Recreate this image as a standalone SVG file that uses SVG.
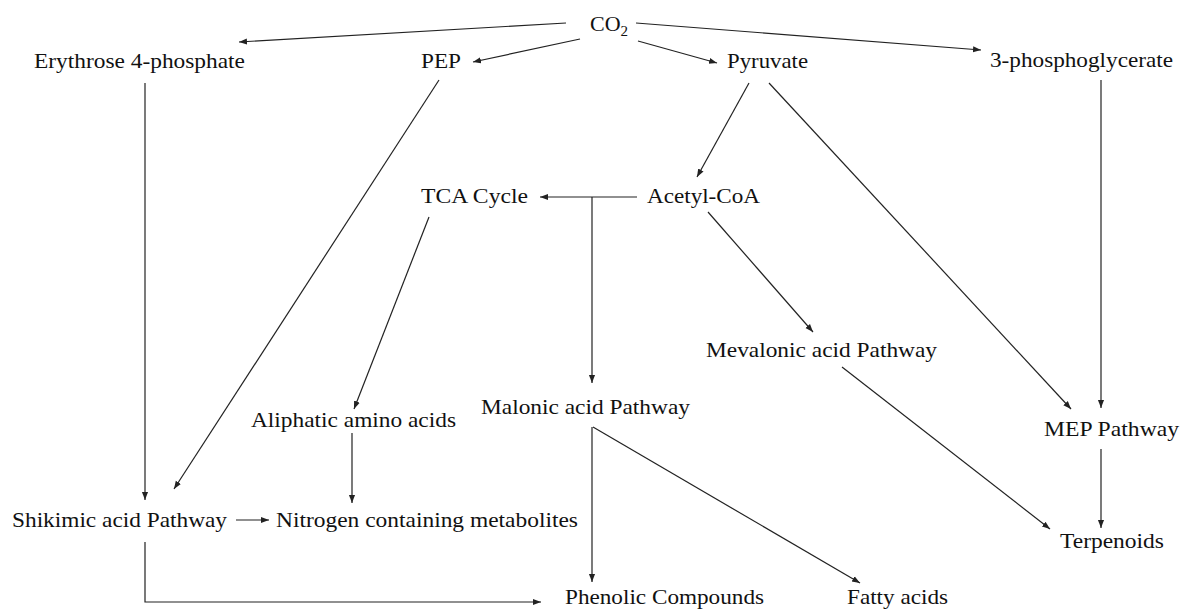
<svg xmlns="http://www.w3.org/2000/svg" width="1184" height="610" viewBox="0 0 1184 610">
<style>
text{font-family:"Liberation Serif","Times New Roman",serif;font-size:22px;fill:#111}
.c line,.c polyline{stroke:#222;stroke-width:1.2;fill:none}
.a{marker-end:url(#ah)}
</style>
<defs>
<marker id="ah" viewBox="0 0 10 10" refX="10" refY="5" markerWidth="8" markerHeight="8" markerUnits="userSpaceOnUse" orient="auto">
<path d="M0,1.2 L10,5 L0,8.8 z" fill="#222"/>
</marker>
</defs>
<rect width="1184" height="610" fill="#fff"/>
<g class="c" id="connectors">
<line class="a" x1="566" y1="23" x2="239" y2="42"/>
<line class="a" x1="580" y1="39" x2="473" y2="62"/>
<line class="a" x1="638" y1="41" x2="717" y2="63"/>
<line class="a" x1="636" y1="23" x2="981" y2="50"/>
<line class="a" x1="145" y1="83" x2="145" y2="500"/>
<line class="a" x1="439" y1="80" x2="174" y2="489"/>
<line class="a" x1="749" y1="83" x2="697" y2="177"/>
<line class="a" x1="769" y1="83" x2="1071" y2="409"/>
<line class="a" x1="1101" y1="80" x2="1101" y2="408"/>
<line class="a" x1="637" y1="197" x2="540" y2="197"/>
<line class="a" x1="592" y1="197" x2="592" y2="383"/>
<line class="a" x1="708" y1="212" x2="813" y2="332"/>
<line class="a" x1="429" y1="217" x2="354" y2="409"/>
<line class="a" x1="352" y1="433" x2="352" y2="503"/>
<line class="a" x1="236" y1="520" x2="269" y2="520"/>
<polyline class="a" points="145,542 145,602 541,602"/>
<line class="a" x1="592" y1="427" x2="592" y2="582"/>
<line class="a" x1="593" y1="427" x2="860" y2="583"/>
<line class="a" x1="842" y1="367" x2="1050" y2="529"/>
<line class="a" x1="1101" y1="449" x2="1101" y2="528"/>
</g>
<g id="co2"><text x="590" y="31">CO<tspan font-size="15" dy="5">2</tspan></text></g>
<g id="erythrose"><text x="34" y="68" textLength="211" lengthAdjust="spacingAndGlyphs">Erythrose 4-phosphate</text></g>
<g id="pep"><text x="421" y="68" textLength="40" lengthAdjust="spacingAndGlyphs">PEP</text></g>
<g id="pyruvate"><text x="727" y="68" textLength="81" lengthAdjust="spacingAndGlyphs">Pyruvate</text></g>
<g id="pga"><text x="990" y="67" textLength="183" lengthAdjust="spacingAndGlyphs">3-phosphoglycerate</text></g>
<g id="tca"><text x="421" y="203" textLength="107" lengthAdjust="spacingAndGlyphs">TCA Cycle</text></g>
<g id="acetyl"><text x="647" y="203" textLength="113" lengthAdjust="spacingAndGlyphs">Acetyl-CoA</text></g>
<g id="mevalonic"><text x="706" y="357" textLength="231" lengthAdjust="spacingAndGlyphs">Mevalonic acid Pathway</text></g>
<g id="malonic"><text x="481" y="414" textLength="209" lengthAdjust="spacingAndGlyphs">Malonic acid Pathway</text></g>
<g id="aliphatic"><text x="251" y="427" textLength="205" lengthAdjust="spacingAndGlyphs">Aliphatic amino acids</text></g>
<g id="mep"><text x="1044" y="436" textLength="135" lengthAdjust="spacingAndGlyphs">MEP Pathway</text></g>
<g id="shikimic"><text x="12" y="527" textLength="215" lengthAdjust="spacingAndGlyphs">Shikimic acid Pathway</text></g>
<g id="nitrogen"><text x="276" y="527" textLength="302" lengthAdjust="spacingAndGlyphs">Nitrogen containing metabolites</text></g>
<g id="terpenoids"><text x="1060" y="548" textLength="104" lengthAdjust="spacingAndGlyphs">Terpenoids</text></g>
<g id="phenolic"><text x="565" y="604" textLength="199" lengthAdjust="spacingAndGlyphs">Phenolic Compounds</text></g>
<g id="fatty"><text x="847" y="604" textLength="101" lengthAdjust="spacingAndGlyphs">Fatty acids</text></g>
</svg>
